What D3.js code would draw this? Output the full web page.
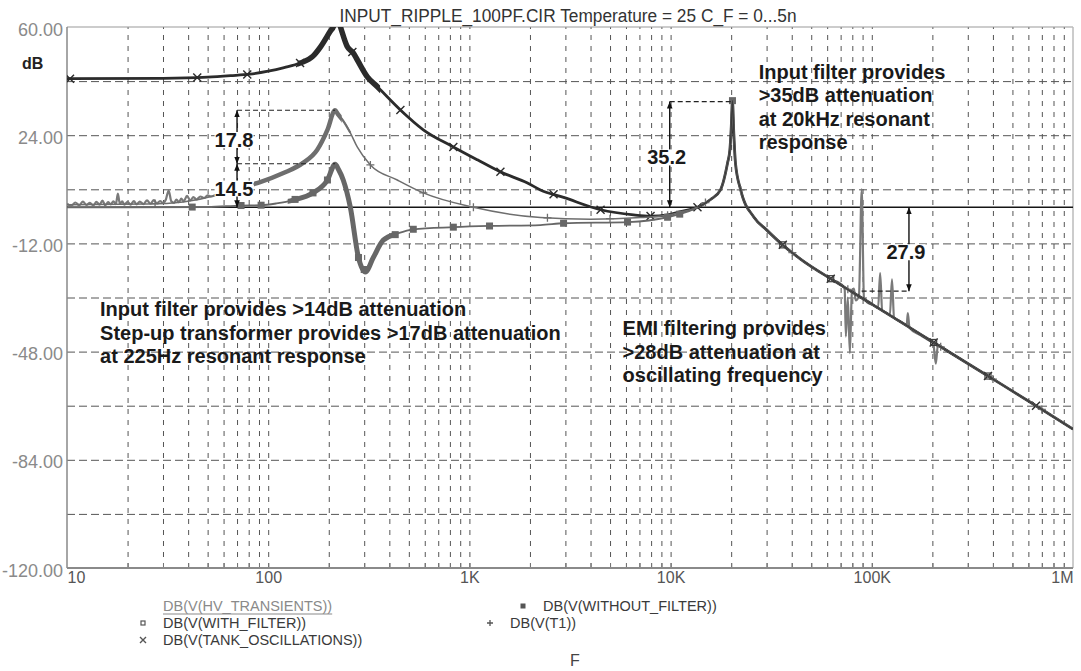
<!DOCTYPE html>
<html><head><meta charset="utf-8">
<script src="https://cdn.jsdelivr.net/npm/d3@7"></script>
<style>
body{margin:0;background:#fff}
svg{display:block;background:#fff}
text{font-family:"Liberation Sans",Arial,sans-serif}
</style></head><body>
<svg id="c" width="1081" height="671"></svg>
<script>
// ---------------- data ----------------
const title = "INPUT_RIPPLE_100PF.CIR Temperature = 25 C_F = 0...5n";
const xTicks = [10, 100, 1000, 10000, 100000, 1000000];
const xTickLabels = ["10", "100", "1K", "10K", "100K", "1M"];
const yTicks = [60, 24, -12, -48, -84, -120];
const yGridLevels = [42, 24, 6, -12, -30, -48, -66, -84, -102];
const yUnit = "dB";
const xName = "F";
const refLevel = 0;

// shared high-frequency response (all traces merge above ~13 kHz): [Hz, dB]
const commonHigh = [[13600,0],[15800,2.6],[17700,5.8],[19200,14.8],[19700,19],[20000,26],[20300,35.5],[20600,25],[21000,14.8],[22300,5.8],[25900,-3.2],[30000,-7.5],[35200,-11.9],[44400,-17.3],[64700,-24.4],[100000,-32.2],[151000,-39.6],[208000,-45.4],[361000,-55.3],[655000,-66],[1000000,-73.8]];

const tankLow = [[10,42.8],[30,42.9],[50,43.3],[65,43.8],[81,44.3],[100,45.3],[120,46.5],[144,48],[167,50.3],[182,53.4],[203,58.5],[212,60.5],[218,64],[224,62],[230,59.5],[247,53.5],[265,51.3],[277,49.1],[311,43.4],[349,40.1],[454,32.4],[590,25.8],[832,20.1],[1096,15.8],[1426,11.8],[1944,8.1],[2254,5.8],[2938,3.3],[4487,-0.8],[6546,-2.5],[7950,-2.9],[9660,-2.5],[11200,-1.4]];

const t1Low = [[10,0.9],[25,1.1],[37.8,1.8],[55.7,4.1],[70.2,6.4],[91.2,8.4],[119,11.4],[149,14.8],[175,19.1],[197,25.8],[215,32.3],[222,31],[236,28.8],[256,24.8],[277,20.1],[322,14.1],[438,9.1],[590,4.8],[1047,0],[2254,-3.4],[4000,-4.0],[7096,-3.4],[9660,-2.6],[11200,-1.6]];

const withoutFilterLow = [[10,0],[50,0.1],[73,0.6],[92,0.7],[110,1.3],[133,2.4],[167,4.8],[197,9.1],[215,14.3],[224,12.5],[236,9.1],[256,0],[281,-16.7],[304,-21.5],[333,-16.7],[373,-10.9],[444,-8.6],[526,-7.3],[832,-6.6],[1271,-6.2],[2254,-5.9],[2938,-5.3],[6185,-4.9],[9660,-3.3],[11200,-2.2]];

const hvLow = [[10,1.2],[10.5,0.5],[11,1.6],[11.5,0.7],[12,1.9],[12.5,0.8],[13,1.5],[13.5,0.6],[14,1.8],[14.5,0.9],[15,2.2],[15.5,0.7],[16,1.7],[16.5,1.0],[17,2.0],[17.5,1.1],[17.9,4.6],[18.3,1.2],[18.8,2.0],[19.3,0.9],[20,1.8],[20.7,0.9],[21.5,2.1],[22.2,1.0],[23,1.9],[24,1.1],[25,2.3],[26,1.2],[27,2.4],[28,1.3],[29,2.1],[30,1.4],[31,2.6],[32,5.6],[33,2.0],[34,1.5],[35,2.6],[36,1.7],[37,2.9],[38,2.0],[39.5,3.8],[41,2.3],[42.5,3.4],[44,2.6],[46,3.6],[48,3.1],[50,4.0],[52,3.6],[55.7,4.4],[60,5.0],[70.2,6.4],[91.2,8.4],[119,11.4],[149,14.8],[175,19.1],[197,25.8],[215,32.3],[222,31],[236,28.8],[256,24.8]];
const hvHigh = [[64700,-24.4],[70200,-25.5],[73300,-27],[74300,-43],[76000,-30],[77800,-48.5],[79600,-28.5],[81500,-27],[83200,-31],[86300,-29.5],[89100,6],[91400,-30],[95500,-31.8],[101000,-32.4],[107500,-33.4],[110000,-21.9],[112600,-34.2],[119000,-35.2],[123000,-35.8],[126000,-24],[129000,-36.7],[140000,-38.1],[146000,-38.9],[149000,-39.3],[151000,-35.2],[154000,-40.1],[175000,-42.6],[196000,-44.6],[202000,-45.2],[208000,-52],[213000,-45.8],[233000,-47.4],[247000,-48.5],[277000,-50.5]];

// marker frequencies (Hz) along each trace
const tankMarks = [10.35,44.4,78.7,144,262,454,832,1426,2620,4487,7950,13600,36100,62500,203000,378000,655000];
const t1Marks = [27.4,72.6,322,590,1047,2443,5000,9660,14900,22300,40300,76000,220000,400000,700000];
const withoutMarks = [41.9,73.3,92.2,136,167,197,281,300,428,526,832,1259,2938,6109,9660,11100,20300];
const withMarks = [36100,62500,203000,378000];

const legendNames = ["DB(V(HV_TRANSIENTS))","DB(V(WITH_FILTER))","DB(V(TANK_OSCILLATIONS))","DB(V(WITHOUT_FILTER))","DB(V(T1))"];

// measurements drawn on the plot
const arrows = [
  {f:70, from:14.5, to:32.3, label:"17.8"},
  {f:70, from:0, to:14.5, label:"14.5"},
  {f:9900, from:0, to:35.2, label:"35.2"},
  {f:153000, from:0, to:-27.9, label:"27.9"}
];
const guides = [
  {db:32.3, f0:70, f1:215},
  {db:14.5, f0:70, f1:215},
  {db:35.2, f0:9900, f1:20300},
  {db:-27.9, f0:89000, f1:153000}
];
const notes = [
  {f:14.6, db:-36.2, lines:["Input filter provides >14dB attenuation","Step-up transformer provides >17dB attenuation","at 225Hz resonant response"]},
  {f:27400, db:42.8, lines:["Input filter provides",">35dB attenuation","at 20kHz resonant","response"]},
  {f:5770, db:-42.6, lines:["EMI filtering provides",">28dB attenuation at","oscillating frequency"]}
];

// ---------------- layout ----------------
const M = {left:67, right:1073, top:27, bottom:568};
const svg = d3.select("#c");
const x = d3.scaleLog().domain([10, 1e6]).range([M.left, M.right]);
const y = d3.scaleLinear().domain([-120, 60]).range([M.bottom, M.top]);

const defs = svg.append("defs");
defs.append("clipPath").attr("id","plot").append("rect")
  .attr("x",M.left).attr("y",M.top).attr("width",M.right-M.left).attr("height",M.bottom-M.top);
const ah = defs.append("marker").attr("id","ah").attr("viewBox","0 0 10 10")
  .attr("refX",10).attr("refY",5).attr("markerWidth",7).attr("markerHeight",7)
  .attr("markerUnits","userSpaceOnUse").attr("orient","auto-start-reverse");
ah.append("path").attr("d","M0,1 L10,5 L0,9 Z").attr("fill","#111");

// minor grid frequencies
const minorF = [];
for (let dec = 10; dec < 1e6; dec *= 10) for (let m = 1; m <= 9; m++) if (!(m === 1 && dec === 10)) minorF.push(m * dec);

// vertical grid
const gv = svg.append("g").attr("transform",`translate(0,${M.bottom})`)
  .call(d3.axisBottom(x).tickValues(minorF).tickSize(-(M.bottom-M.top)).tickFormat(""));
gv.select(".domain").remove();
gv.selectAll("line").attr("stroke","#555").attr("stroke-width",1).attr("stroke-dasharray","5,6");

// horizontal grid
const gh = svg.append("g").attr("transform",`translate(${M.left},0)`)
  .call(d3.axisLeft(y).tickValues(yGridLevels).tickSize(-(M.right-M.left)).tickFormat(""));
gh.select(".domain").remove();
gh.selectAll("line").attr("stroke","#555").attr("stroke-width",1).attr("stroke-dasharray","8,4");

// small bottom ticks
const gt = svg.append("g").attr("transform",`translate(0,${M.bottom})`)
  .call(d3.axisBottom(x).tickValues(minorF).tickSize(-5).tickFormat(""));
gt.select(".domain").remove();
gt.selectAll("line").attr("stroke","#777");

// frame
svg.append("line").attr("x1",M.left).attr("x2",M.right).attr("y1",M.top).attr("y2",M.top).attr("stroke","#999");
svg.append("line").attr("x1",M.right).attr("x2",M.right).attr("y1",M.top).attr("y2",M.bottom).attr("stroke","#bbb").attr("stroke-width",1.5);
svg.append("line").attr("x1",M.left).attr("x2",M.left).attr("y1",M.top).attr("y2",M.bottom).attr("stroke","#888").attr("stroke-width",1.5);
svg.append("line").attr("x1",M.left).attr("x2",M.right).attr("y1",M.bottom).attr("y2",M.bottom).attr("stroke","#8a8a8a").attr("stroke-width",2);

// axis labels
const gx = svg.append("g").attr("transform",`translate(0,${M.bottom})`)
  .call(d3.axisBottom(x).tickValues(xTicks).tickSize(0).tickPadding(4).tickFormat((d,i)=>xTickLabels[i]));
gx.select(".domain").remove();
gx.selectAll("text").attr("font-size",16).attr("fill","#555").attr("font-family","Liberation Sans, Arial, sans-serif");
gx.selectAll("text").filter((d,i)=>i===0).attr("text-anchor","start");
gx.selectAll("text").filter((d,i)=>i===xTicks.length-1).attr("text-anchor","end");

const gy = svg.append("g").attr("transform",`translate(${M.left},0)`)
  .call(d3.axisLeft(y).tickValues(yTicks).tickSize(0).tickPadding(4).tickFormat(d=>d.toFixed(2)));
gy.select(".domain").remove();
gy.selectAll("text").attr("font-size",18).attr("fill","#8a8a8a").attr("dy","0.45em").attr("font-family","Liberation Sans, Arial, sans-serif");

svg.append("text").attr("x",22).attr("y",69).attr("font-weight","bold").attr("font-size",16).attr("fill","#222").text(yUnit);

svg.append("text").attr("x",568).attr("y",22).attr("text-anchor","middle").attr("font-size",18).attr("fill","#333")
  .text(title).attr("textLength",457).attr("lengthAdjust","spacingAndGlyphs");

// reference 0 dB line
svg.append("line").attr("x1",x(10)).attr("x2",x(1e6)).attr("y1",y(refLevel)).attr("y2",y(refLevel))
  .attr("stroke","#151515").attr("stroke-width",1.5);

// ---------------- traces ----------------
const line = d3.line().x(d=>x(d[0])).y(d=>y(d[1])).curve(d3.curveMonotoneX);
const plot = svg.append("g").attr("clip-path","url(#plot)");

function interp(data, f){
  for (let i = 0; i < data.length-1; i++){
    const a = data[i], b = data[i+1];
    if (f >= a[0] && f <= b[0]){
      const t = (Math.log10(f)-Math.log10(a[0]))/(Math.log10(b[0])-Math.log10(a[0]));
      return a[1] + t*(b[1]-a[1]);
    }
  }
  return null;
}

const series = [
  {name:"hv", parts:[hvLow, hvHigh], color:"#7a7a7a", w:2.2, band:null, marks:[], sym:null},
  {name:"tank", parts:[tankLow.concat(commonHigh)], color:"#2b2b2b", w:2.8, band:[140,360], bw:5.5, marks:tankMarks, sym:"x"},
  {name:"t1", parts:[t1Low.concat(commonHigh)], color:"#6e6e6e", w:1.5, band:[85,232], bw:4.5, marks:t1Marks, sym:"+"},
  {name:"without", parts:[withoutFilterLow.concat(commonHigh)], color:"#676767", w:1.8, band:[125,420], bw:5, marks:withoutMarks, sym:"sqf"},
  {name:"with", parts:[commonHigh], color:"#3a3a3a", w:1.2, band:null, marks:withMarks, sym:"sq"}
];

function drawSym(g, type, cx, cy, color, s){
  if (type === "x"){
    g.append("path").attr("d",`M${cx-s},${cy-s}L${cx+s},${cy+s}M${cx-s},${cy+s}L${cx+s},${cy-s}`).attr("stroke",color).attr("stroke-width",1.4).attr("fill","none");
  } else if (type === "+"){
    g.append("path").attr("d",`M${cx-s},${cy}L${cx+s},${cy}M${cx},${cy-s}L${cx},${cy+s}`).attr("stroke",color).attr("stroke-width",1.3).attr("fill","none");
  } else if (type === "sqf"){
    g.append("rect").attr("x",cx-s).attr("y",cy-s).attr("width",2*s).attr("height",2*s).attr("fill",color);
  } else if (type === "sq"){
    g.append("rect").attr("x",cx-s+0.5).attr("y",cy-s+0.5).attr("width",2*s-1).attr("height",2*s-1).attr("fill","none").attr("stroke",color).attr("stroke-width",1.2);
  }
}

series.forEach((s,si)=>{
  s.parts.forEach(p=>{
    plot.append("path").attr("d",line(p)).attr("fill","none").attr("stroke",s.color).attr("stroke-width",s.w).attr("stroke-linejoin","round");
    if (s.band){
      const id = "band"+si;
      defs.append("clipPath").attr("id",id).append("rect")
        .attr("x",x(s.band[0])).attr("y",M.top).attr("width",x(s.band[1])-x(s.band[0])).attr("height",M.bottom-M.top);
      plot.append("g").attr("clip-path",`url(#${id})`).append("path").attr("d",line(p))
        .attr("fill","none").attr("stroke",s.color).attr("stroke-width",s.bw).attr("stroke-linejoin","round");
    }
  });
  const all = s.parts[0];
  s.marks.forEach(f=>{
    const v = interp(all, f);
    if (v === null) return;
    drawSym(plot, s.sym, x(f), y(v), s.color, s.sym==="sqf"||s.sym==="sq" ? 3.5 : 4);
  });
});

// ---------------- annotations ----------------
const ann = svg.append("g");
guides.forEach(gd=>{
  ann.append("line").attr("x1",x(gd.f0)).attr("x2",x(gd.f1)).attr("y1",y(gd.db)).attr("y2",y(gd.db))
    .attr("stroke","#222").attr("stroke-width",1.2).attr("stroke-dasharray","5,3");
});
arrows.forEach(a=>{
  const ax = x(a.f);
  ann.append("line").attr("x1",ax).attr("x2",ax).attr("y1",y(a.from)).attr("y2",y(a.to))
    .attr("stroke","#111").attr("stroke-width",1.4).attr("marker-start","url(#ah)").attr("marker-end","url(#ah)");
});
arrows.forEach(a=>{
  const ax = x(a.f) - 3, ay = (y(a.from)+y(a.to))/2 + 3;
  const t = ann.append("text").attr("x",ax).attr("y",ay).attr("text-anchor","middle").attr("dominant-baseline","central")
    .attr("font-weight","bold").attr("font-size",20).attr("fill","#1a1a1a").text(a.label);
  const bb = t.node().getBBox();
  ann.insert("rect", () => t.node()).attr("x",bb.x).attr("y",bb.y+3).attr("width",bb.width).attr("height",bb.height-6).attr("fill","#fff");
});
notes.forEach(n=>{
  n.lines.forEach((l,i)=>{
    ann.append("text").attr("x",x(n.f)).attr("y",y(n.db)+i*23.5).attr("font-weight","bold").attr("font-size",20)
      .attr("fill","#1a1a1a").text(l);
  });
});

// ---------------- legend ----------------
const legendPos = [[163,611],[163,628],[163,645],[543,611],[510,628]];
const legendSym = [null,"sq","x","sqf","+"];
const lg = svg.append("g");
legendNames.forEach((nm,i)=>{
  const [lx,ly] = legendPos[i];
  const t = lg.append("text").attr("x",lx).attr("y",ly).attr("font-size",14.5).attr("fill", i===0 ? "#8a8a8a" : "#3a3a3a").text(nm);
  if (i===0){
    const w = t.node().getComputedTextLength();
    lg.append("line").attr("x1",lx).attr("x2",lx+w).attr("y1",ly+3).attr("y2",ly+3).attr("stroke","#8a8a8a").attr("stroke-width",1.2);
  }
  if (legendSym[i]) drawSym(lg, legendSym[i], lx-20, ly-5, "#555", legendSym[i].startsWith("sq") ? 2.5 : 3);
});
svg.append("text").attr("x",575).attr("y",666).attr("text-anchor","middle").attr("font-size",16).attr("fill","#444").text(xName);
</script>
</body></html>
